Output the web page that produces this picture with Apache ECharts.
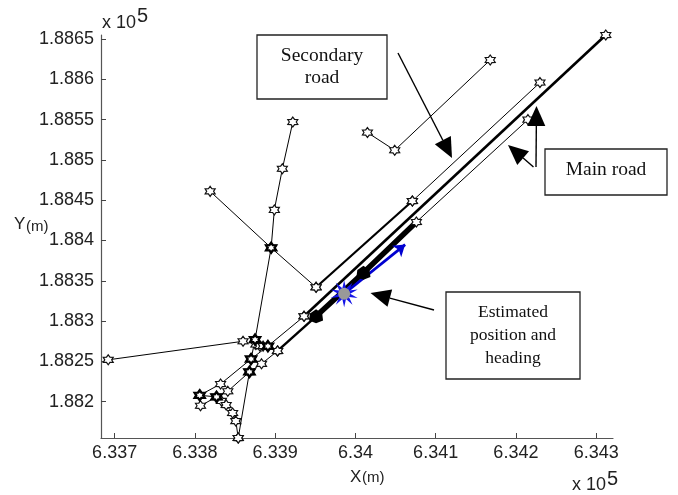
<!DOCTYPE html>
<html><head><meta charset="utf-8">
<script src="https://cdn.jsdelivr.net/npm/echarts@6/dist/echarts.min.js"></script>
<style>html,body{margin:0;padding:0;background:#fff}#c{width:678px;height:495px}</style>
</head><body><div id="c"></div>
<script>
// Tick labels
const xTicks = [6.337, 6.338, 6.339, 6.34, 6.341, 6.342, 6.343];
const yTicks = [1.882, 1.8825, 1.883, 1.8835, 1.884, 1.8845, 1.885, 1.8855, 1.886, 1.8865];

// Thin road segments [x, y] (units of 1e5 m)
const westSpur = [[6.33692,1.88252],[6.33860,1.88275]];
const northRoad = [[6.33854,1.88155],[6.33868,1.88237],[6.33870,1.88253],[6.33875,1.88277],[6.33895,1.88391],[6.33899,1.88438],[6.33909,1.88489],[6.33922,1.88547]];
const clusterRow = [[6.33875,1.88277],[6.33876,1.88271],[6.33881,1.88269],[6.33885,1.88269],[6.33891,1.88269]];
const upperFeeder = [[6.33806,1.88208],[6.33832,1.88222],[6.33870,1.88253],[6.33891,1.88269],[6.33936,1.88306]];
const lowerFeeder = [[6.33807,1.88195],[6.33827,1.88206],[6.33841,1.88213],[6.33868,1.88237],[6.33883,1.88247],[6.33903,1.88263]];
const southBranch = [[6.33806,1.88208],[6.33827,1.88206],[6.33833,1.88201],[6.33839,1.88196],[6.33847,1.88186],[6.33851,1.88176],[6.33854,1.88155]];
const crossRoad = [[6.33819,1.88461],[6.33895,1.88391],[6.33951,1.88342]];
const secondThin = [[6.34071,1.88449],[6.34230,1.88596]];
const mainThin = [[6.34076,1.88423],[6.34215,1.88550]];
const northEast = [[6.34015,1.88534],[6.34049,1.88512],[6.34168,1.88624]];
// Thick road segments
const mainRoad = [[6.33936,1.88306],[6.34312,1.88655]];
const secondRoad = [[6.33951,1.88342],[6.34071,1.88449]];
const lowerRoad = [[6.33903,1.88263],[6.33951,1.88306]];
const matchedRoad = [[6.33951,1.88306],[6.34010,1.88360],[6.34076,1.88423]];
// Matched nodes, junctions, estimate
const matchedNodes = [[6.33951,1.88306],[6.34010,1.88360]];
const junctions = [[6.33895,1.88391],[6.33868,1.88237],[6.33870,1.88253],[6.33875,1.88277],[6.33891,1.88269],[6.33806,1.88208],[6.33827,1.88206]];
const estimate = [6.33986,1.88334];
const heading = [6.34062,1.88395];

function starPath(n, inner){
  let d = '';
  for(let i=0;i<n*2;i++){
    const r = i%2?inner:1, a = Math.PI*i/n - Math.PI/2;
    d += (i?'L':'M')+(50+50*r*Math.cos(a)).toFixed(2)+' '+(50+50*r*Math.sin(a)).toFixed(2);
  }
  return 'path://'+d+'Z';
}
const hexagram = starPath(6,0.6);
const sun = starPath(10,0.42);

function road(data,width,opts){
  return Object.assign({type:'line',data,showSymbol:true,symbol:hexagram,symbolSize:10,clip:false,silent:true,z:3,
    lineStyle:{color:'#000',width},
    itemStyle:{color:'#fff',borderColor:'#111',borderWidth:1.2}},opts||{});
}
function arrow(x1,y1,x2,y2){
  const L=Math.hypot(x2-x1,y2-y1),ux=(x2-x1)/L,uy=(y2-y1)/L,h=20,w=9;
  const bx=x2-ux*h,by=y2-uy*h;
  return [
    {type:'line',shape:{x1,y1,x2:bx,y2:by},style:{stroke:'#000',lineWidth:1.4},z:20},
    {type:'polygon',shape:{points:[[x2,y2],[bx-uy*w,by+ux*w],[bx+uy*w,by-ux*w]]},style:{fill:'#000'},z:20}
  ];
}
function box(x,y,w,h,lines,ys,size){
  const out=[{type:'rect',shape:{x:x,y:y,width:w,height:h},style:{fill:'#fff',stroke:'#222',lineWidth:1.3},z:15}];
  lines.forEach((t,i)=>out.push({type:'text',x:x+w/2,y:ys[i],z:16,style:{text:t,fill:'#111',font:size+'px "Liberation Serif"',align:'center',verticalAlign:'middle'}}));
  return out;
}
function txt(x,y,t,size){
  return {type:'text',x,y,z:16,style:{text:t,fill:'#222',font:size+'px "Liberation Sans"',align:'left',verticalAlign:'middle'}};
}
const chart = echarts.init(document.getElementById('c'),null,{renderer:'canvas'});
const axisCommon = {
  type:'value',scale:true,splitLine:{show:false},
  axisLine:{show:true,onZero:false,lineStyle:{color:'#555',width:1.2}},
  axisTick:{show:true,inside:true,length:5,lineStyle:{color:'#444',width:1}}
};
chart.setOption({
  animation:false,
  backgroundColor:'#fff',
  grid:{left:101,top:35,right:65,bottom:57},
  xAxis:Object.assign({},axisCommon,{min:6.33683,max:6.34321,
    axisTick:Object.assign({},axisCommon.axisTick,{customValues:xTicks}),
    axisLabel:{customValues:xTicks,formatter:v=>String(+v.toFixed(4)),color:'#222',fontFamily:'Liberation Sans',fontSize:18,margin:6}}),
  yAxis:Object.assign({},axisCommon,{min:1.88155,max:1.88655,
    axisTick:Object.assign({},axisCommon.axisTick,{customValues:yTicks}),
    axisLabel:{customValues:yTicks,formatter:v=>String(+v.toFixed(4)),color:'#222',fontFamily:'Liberation Sans',fontSize:18,margin:7}}),
  series:[
    road(westSpur,1),road(northRoad,1),road(clusterRow,1),road(upperFeeder,1),road(lowerFeeder,1),
    road(southBranch,1),road(crossRoad,1),road(secondThin,1),road(mainThin,1),road(northEast,1),
    road(mainRoad,2.6),road(secondRoad,2.2),road(lowerRoad,2.4),
    road(matchedRoad,5.5,{showSymbol:false,symbol:'none'}),
    {type:'scatter',data:junctions,symbol:hexagram,symbolSize:10,clip:false,silent:true,z:4,
      itemStyle:{color:'#fff',borderColor:'#000',borderWidth:2.4,opacity:1}},
    {type:'scatter',data:matchedNodes,symbol:starPath(3,0.87),symbolSize:14,clip:false,silent:true,z:5,
      itemStyle:{color:'#000',opacity:1}},
    {type:'scatter',data:[estimate],symbol:'none',silent:true,z:6,
      markLine:{silent:true,animation:false,symbol:['none','arrow'],symbolSize:11,label:{show:false},
        lineStyle:{color:'#0000d0',width:2.8,type:'solid'},data:[[{coord:estimate},{coord:heading}]]}},
    {type:'scatter',data:[estimate],symbol:sun,symbolSize:27,clip:false,silent:true,z:7,itemStyle:{color:'#1414e6',opacity:1}},
    {type:'scatter',data:[estimate],symbol:'circle',symbolSize:12,clip:false,silent:true,z:8,itemStyle:{color:'#999',opacity:1}}
  ],
  graphic:[].concat(
    box(257,35,130,64,['Secondary','road'],[56,78],19.5),
    box(545,149,122,46,['Main road'],[170],19.5),
    box(446,292,134,87,['Estimated','position and','heading'],[312,335,358],17.5),
    arrow(398,53,452,158),
    arrow(536,167,536.5,106),
    arrow(533.5,167,508,145),
    arrow(434,310,370.5,293),
    [txt(102,23,'x 10',18),txt(137,16,'5',20),
     txt(572,485,'x 10',18),txt(607,479,'5',20),
     txt(14,224,'Y',17),txt(26,227,'(m)',15),
     txt(350,477,'X',17),txt(362,478,'(m)',15)]
  )
});
</script></body></html>
